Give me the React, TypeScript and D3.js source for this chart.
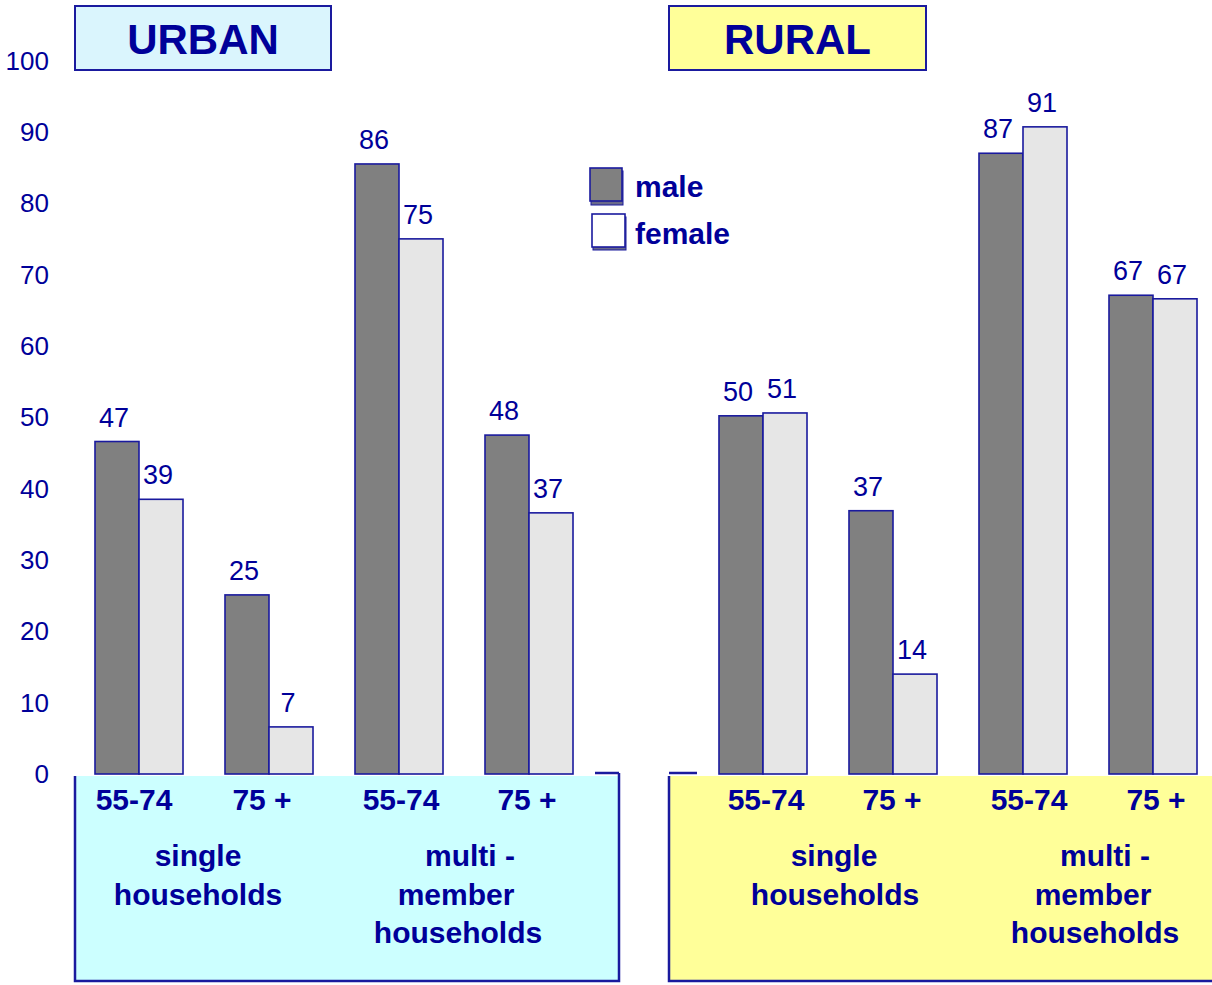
import React from "react";
import * as d3 from "d3";

// ---------- data ----------
const ageGroups = ["55-74", "75 +", "55-74 ", "75 + "];
const sexes = ["male", "female"];
const urbanMale = [46.6, 25.1, 85.5, 47.5];
const urbanFemale = [38.5, 6.6, 75.0, 36.6];
const ruralMale = [50.2, 36.9, 87.0, 67.1];
const ruralFemale = [50.6, 14.0, 90.7, 66.6];
const yTicks = [0, 10, 20, 30, 40, 50, 60, 70, 80, 90, 100];
const householdLabels = [["single", "households"], ["multi -", "member", "households"]];

// ---------- style ----------
const W = 1212;
const H = 985;
const NAVY = "#000099";
const BORDER = "#1a1a9e";
const MALE = "#808080";
const FEMALE = "#e6e6e6";
const FONT = "'Liberation Sans', Arial, Helvetica, sans-serif";

const y = d3.scaleLinear().domain([0, 100]).range([774, 60.5]);

function Panel({
  title,
  male,
  female,
  range,
  titleBox,
  box,
  titleFill,
  boxFill,
  seg,
  labelShift,
  ageShift,
}: any) {
  const x = d3
    .scaleBand<string>()
    .domain(ageGroups)
    .range(range)
    .paddingInner(0.323)
    .paddingOuter(0.1615);
  const xs = d3.scaleBand<string>().domain(sexes).range([0, x.bandwidth()]);
  const fmt = d3.format(".0f");
  const series = [male, female];
  const gc = (i: number) => (x(ageGroups[i]) as number) + x.bandwidth() / 2;
  return (
    <g>
      {/* title */}
      <rect
        x={titleBox[0]}
        y={titleBox[1]}
        width={titleBox[2]}
        height={titleBox[3]}
        fill={titleFill}
        stroke={BORDER}
        strokeWidth={2}
      />
      <text
        x={titleBox[0] + titleBox[2] / 2}
        y={titleBox[1] + 48}
        textAnchor="middle"
        fontFamily={FONT}
        fontWeight="bold"
        fontSize={42}
        fill={NAVY}
      >
        {title}
      </text>
      {/* bars */}
      {ageGroups.map((g, i) =>
        sexes.map((s, j) => {
          const v = series[j][i];
          const bx = (x(g) as number) + (xs(s) as number);
          return (
            <g key={g + s}>
              <rect
                x={bx}
                y={y(v)}
                width={xs.bandwidth()}
                height={y(0) - y(v)}
                fill={j === 0 ? MALE : FEMALE}
                stroke={BORDER}
                strokeWidth={1.6}
              />
              <text
                x={bx + xs.bandwidth() / 2 - 3}
                y={y(v) - 15}
                textAnchor="middle"
                fontFamily={FONT}
                fontSize={27}
                fill={NAVY}
              >
                {fmt(v)}
              </text>
            </g>
          );
        })
      )}
      {/* bottom box */}
      <rect x={box[0]} y={box[1]} width={box[2]} height={box[3]} fill={boxFill} />
      <path
        d={`M${box[0]},${box[1]} V${box[1] + box[3]} H${box[0] + box[2]} V${box[1] - 3}`}
        fill="none"
        stroke={BORDER}
        strokeWidth={2.5}
      />
      <line x1={seg[0]} x2={seg[1]} y1={773} y2={773} stroke={BORDER} strokeWidth={2.5} />
      {/* age labels */}
      {ageGroups.map((g, i) => (
        <text
          key={g}
          x={gc(i) + ageShift[i]}
          y={810}
          textAnchor="middle"
          fontFamily={FONT}
          fontWeight="bold"
          fontSize={30}
          fill={NAVY}
        >
          {g.trim()}
        </text>
      ))}
      {householdLabels.map((lines, k) =>
        lines.map((ln, li) => (
          <text
            key={k + "-" + li}
            x={(gc(2 * k) + gc(2 * k + 1)) / 2 + labelShift[k][li]}
            y={866 + li * 38.5}
            textAnchor="middle"
            fontFamily={FONT}
            fontWeight="bold"
            fontSize={30}
            fill={NAVY}
          >
            {ln}
          </text>
        ))
      )}
    </g>
  );
}

export default function App() {
  return (
    <svg
      width={W}
      height={H}
      style={{ position: "absolute", left: 0, top: 0, background: "#fff" }}
    >
      {/* y axis labels */}
      {yTicks.map((t) => (
        <text
          key={t}
          x={49}
          y={y(t) + 9}
          textAnchor="end"
          fontFamily={FONT}
          fontSize={26}
          fill={NAVY}
        >
          {t}
        </text>
      ))}
      <Panel
        title="URBAN"
        male={urbanMale}
        female={urbanFemale}
        range={[74, 594]}
        titleBox={[75, 6, 256, 64]}
        box={[75, 776, 544, 205]}
        titleFill="#daf5fd"
        boxFill="#ccffff"
        seg={[595, 619]}
        labelShift={[[-6, -6], [6, -8, -6]]}
        ageShift={[-5, -7, 2, -2]}
      />
      <Panel
        title="RURAL"
        male={ruralMale}
        female={ruralFemale}
        range={[698, 1218]}
        titleBox={[669, 6, 257, 64]}
        box={[669, 776, 560, 205]}
        titleFill="#ffff99"
        boxFill="#ffff99"
        seg={[669, 697]}
        labelShift={[[6, 7], [17, 5, 7]]}
        ageShift={[3, -1, 6, 3]}
      />
      {/* legend */}
      <g>
        <rect x={591} y={171} width={32} height={34} fill="#6a6a8a" stroke={BORDER} strokeWidth={1} />
        <rect x={590} y={168} width={32} height={33} fill={MALE} stroke={BORDER} strokeWidth={1.6} />
        <text x={635} y={197} fontFamily={FONT} fontWeight="bold" fontSize={30} fill={NAVY}>
          male
        </text>
        <rect x={593} y={217} width={33} height={33} fill="#6a6a8a" stroke={BORDER} strokeWidth={1} />
        <rect x={592} y={214} width={33} height={33} fill="#ffffff" stroke={BORDER} strokeWidth={1.6} />
        <text x={635} y={244} fontFamily={FONT} fontWeight="bold" fontSize={30} fill={NAVY}>
          female
        </text>
      </g>
    </svg>
  );
}
